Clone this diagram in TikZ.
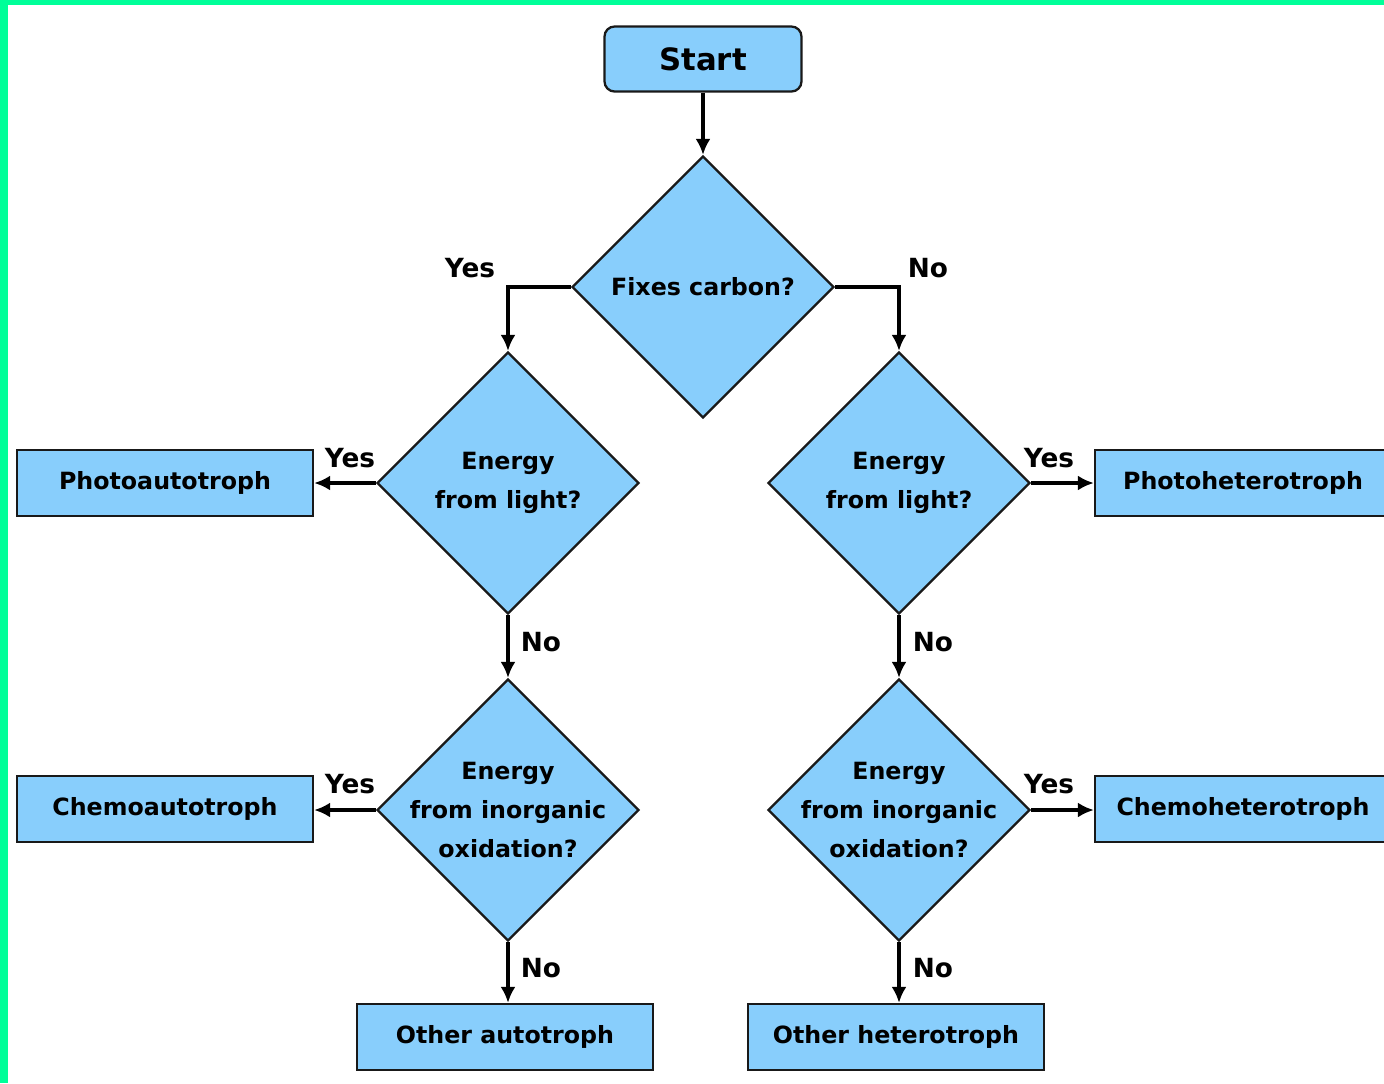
\documentclass[tikz,border=0pt]{standalone}
\usepackage{fontspec}
\setmainfont{DejaVu Sans}
\usetikzlibrary{shapes.geometric,arrows.meta,positioning}

\definecolor{boxblue}{RGB}{136,206,252}
\definecolor{edgegreen}{RGB}{0,255,153}
\definecolor{darkline}{RGB}{25,25,25}

\tikzset{
  startbox/.style={rectangle, rounded corners=0.2cm, draw=darkline, line width=1.3pt, fill=boxblue,
    minimum width=3.94cm, minimum height=1.3cm, font=\fontsize{17.5}{20}\selectfont\bfseries},
  decision/.style={diamond, draw=darkline, line width=1.3pt, fill=boxblue, inner sep=-1cm,
    minimum width=5.24cm, minimum height=5.24cm, align=center,
    font=\fontsize{13.5}{22}\selectfont\bfseries},
  result/.style={rectangle, draw=darkline, line width=1.3pt, fill=boxblue,
    minimum width=5.92cm, minimum height=1.32cm, font=\fontsize{13.5}{16}\selectfont\bfseries},
  answer/.style={font=\fontsize{15}{17}\selectfont\bfseries, inner sep=0pt},
  arr/.style={-{Latex[length=0.32cm,width=0.3cm]}, line width=2.6pt}
}

\begin{document}
\begin{tikzpicture}[x=0.02cm, y=-0.02cm]
\useasboundingbox (0,0) rectangle (1384,1083);
\fill[edgegreen] (0,0) rectangle (1384,5);
\fill[edgegreen] (0,0) rectangle (8,1083);

\node[startbox] (start) at (703,59) {Start};
\node[decision] (fix) at (703,287) {Fixes carbon?};
\node[decision] (autolight) at (508,483) {Energy\\from light?};
\node[decision] (heterolight) at (899,483) {Energy\\from light?};
\node[decision] (autoinorg) at (508,810) {Energy\\from inorganic\\oxidation?};
\node[decision] (heteroinorg) at (899,810) {Energy\\from inorganic\\oxidation?};
\node[result] (photoauto) at (165,483) {Photoautotroph};
\node[result] (chemoauto) at (165,809) {Chemoautotroph};
\node[result] (photohetero) at (1243,483) {Photoheterotroph};
\node[result] (chemohetero) at (1243,809) {Chemoheterotroph};
\node[result] (otherauto) at (505,1037) {Other autotroph};
\node[result] (otherhetero) at (896,1037) {Other heterotroph};

\draw[arr] (start) -- (fix);
\draw[arr] (fix.west) -| (autolight.north);
\draw[arr] (fix.east) -| (heterolight.north);
\draw[arr] (autolight.west) -- (photoauto.east);
\draw[arr] (heterolight.east) -- (photohetero.west);
\draw[arr] (autolight.south) -- (autoinorg.north);
\draw[arr] (heterolight.south) -- (heteroinorg.north);
\draw[arr] (autoinorg.west) -- (autoinorg.west -| chemoauto.east);
\draw[arr] (heteroinorg.east) -- (heteroinorg.east -| chemohetero.west);
\draw[arr] (autoinorg.south) -- (autoinorg.south |- otherauto.north);
\draw[arr] (heteroinorg.south) -- (heteroinorg.south |- otherhetero.north);

\node[answer] (yes1) at (470,268) {Yes};
\node[answer] (no1) at (928,268) {No};
\node[answer] (yes2) at (350,458) {Yes};
\node[answer] (yes3) at (1049,458) {Yes};
\node[answer] (no2) at (541,642) {No};
\node[answer] (no3) at (933,642) {No};
\node[answer] (yes4) at (350,784) {Yes};
\node[answer] (yes5) at (1049,784) {Yes};
\node[answer] (no4) at (541,968) {No};
\node[answer] (no5) at (933,968) {No};
\end{tikzpicture}
\end{document}
